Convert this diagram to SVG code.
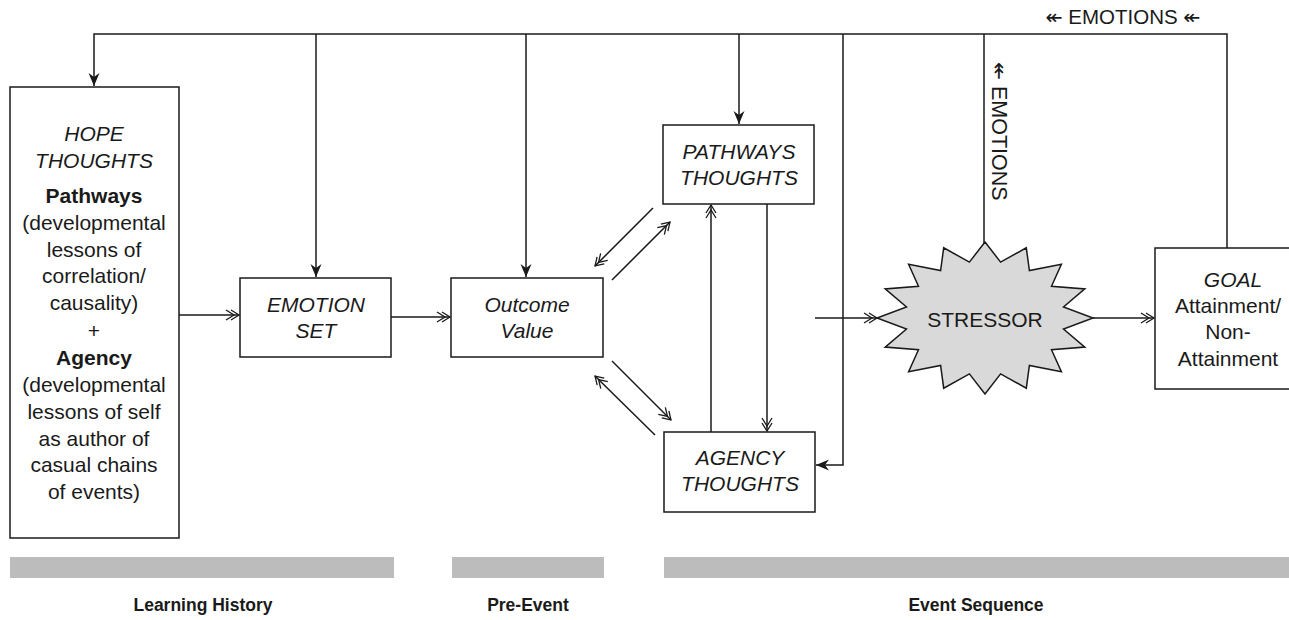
<svg xmlns="http://www.w3.org/2000/svg" width="1289" height="620" viewBox="0 0 1289 620">
  <style>
    .box { fill: #ffffff; stroke: #1a1a1a; stroke-width: 1.5; }
    .wire { fill: none; stroke: #1a1a1a; stroke-width: 1.5; }
    .txt { font-family: "Liberation Sans", Arial, "DejaVu Sans", sans-serif; font-size: 21px; fill: #1a1a1a; text-anchor: middle; }
    .it { font-style: italic; }
    .bd { font-weight: bold; }
    .band { fill: #bcbcbc; }
    .lbl { font-family: "Liberation Sans", Arial, sans-serif; font-size: 17.5px; font-weight: bold; fill: #1a1a1a; text-anchor: middle; }
    .sym { font-family: "DejaVu Sans", "Liberation Sans", sans-serif; }
  </style>
  <defs>
    <!-- solid dart head for the feedback drops -->
    <marker id="dart" markerUnits="userSpaceOnUse" markerWidth="16" markerHeight="14" viewBox="-13 -7 16 14" refX="0" refY="0" orient="auto">
      <path d="M0,0 L-13,-5.5 L-9,0 L-13,5.5 Z" fill="#1a1a1a"/>
    </marker>
    <!-- open double chevron head -->
    <marker id="dbl" markerUnits="userSpaceOnUse" markerWidth="18" markerHeight="14" viewBox="-14 -7 18 14" refX="0" refY="0" orient="auto">
      <path d="M-8,-5 L0,0 L-8,5 M-13,-5 L-5,0 L-13,5" fill="none" stroke="#1a1a1a" stroke-width="1.3"/>
    </marker>
  </defs>

  <!-- phase bands and captions -->
  <g id="phases">
    <rect class="band" x="10" y="557" width="384" height="21"/>
    <rect class="band" x="452" y="557" width="152" height="21"/>
    <rect class="band" x="664" y="557" width="625" height="21"/>
    <text class="lbl" x="203" y="611">Learning History</text>
    <text class="lbl" x="528" y="611">Pre-Event</text>
    <text class="lbl" x="976" y="611">Event Sequence</text>
  </g>

  <!-- connectors -->
  <g id="connectors" class="wire">
    <!-- emotion feedback bus -->
    <path d="M1227,248 V34 H94 V86" marker-end="url(#dart)"/>
    <path d="M316,34 V277" marker-end="url(#dart)"/>
    <path d="M526,34 V277" marker-end="url(#dart)"/>
    <path d="M739,34 V124" marker-end="url(#dart)"/>
    <path d="M843,34 V465 H816" marker-end="url(#dart)"/>
    <path d="M984,34 V243"/>
    <!-- forward flow -->
    <path d="M179,315 H239" marker-end="url(#dbl)"/>
    <path d="M391,317 H450" marker-end="url(#dbl)"/>
    <path d="M815,318 H877" marker-end="url(#dbl)"/>
    <path d="M1093,318 H1154" marker-end="url(#dbl)"/>
    <!-- outcome value <-> thoughts -->
    <path d="M653,208 L595,266" marker-end="url(#dbl)"/>
    <path d="M612,280 L670,222" marker-end="url(#dbl)"/>
    <path d="M612,361 L671,420" marker-end="url(#dbl)"/>
    <path d="M655,435 L595,376" marker-end="url(#dbl)"/>
    <!-- pathways <-> agency -->
    <path d="M767,204 V431" marker-end="url(#dbl)"/>
    <path d="M711,432 V205" marker-end="url(#dbl)"/>
  </g>

  <!-- feedback labels -->
  <g id="emotion-labels">
    <text class="txt" x="1123" y="24" style="font-size:20.5px"><tspan class="sym">↞</tspan> EMOTIONS <tspan class="sym">↞</tspan></text>
    <text class="txt" transform="translate(992,62) rotate(90)" style="font-size:21.5px;text-anchor:start"><tspan class="sym">↞</tspan> EMOTIONS</text>
  </g>

  <g id="hope-thoughts">
    <rect class="box" x="10" y="87" width="169" height="451"/>
    <text class="txt it" x="94" y="141">HOPE</text>
    <text class="txt it" x="94" y="168">THOUGHTS</text>
    <text class="txt bd" x="94" y="203">Pathways</text>
    <text class="txt" x="94" y="230">(developmental</text>
    <text class="txt" x="94" y="257">lessons of</text>
    <text class="txt" x="94" y="283">correlation/</text>
    <text class="txt" x="94" y="310">causality)</text>
    <text class="txt" x="94" y="338">+</text>
    <text class="txt bd" x="94" y="365">Agency</text>
    <text class="txt" x="94" y="392">(developmental</text>
    <text class="txt" x="94" y="419">lessons of self</text>
    <text class="txt" x="94" y="446">as author of</text>
    <text class="txt" x="94" y="472">casual chains</text>
    <text class="txt" x="94" y="499">of events)</text>
  </g>

  <g id="emotion-set">
    <rect class="box" x="240" y="278" width="151" height="79"/>
    <text class="txt it" x="316" y="312">EMOTION</text>
    <text class="txt it" x="316" y="338">SET</text>
  </g>

  <g id="outcome-value">
    <rect class="box" x="451" y="278" width="152" height="79"/>
    <text class="txt it" x="527" y="312">Outcome</text>
    <text class="txt it" x="527" y="338">Value</text>
  </g>

  <g id="pathways-thoughts">
    <rect class="box" x="663" y="125" width="151" height="79"/>
    <text class="txt it" x="739" y="159">PATHWAYS</text>
    <text class="txt it" x="739" y="185">THOUGHTS</text>
  </g>

  <g id="agency-thoughts">
    <rect class="box" x="664" y="432" width="151" height="80"/>
    <text class="txt it" x="740" y="465">AGENCY</text>
    <text class="txt it" x="740" y="491">THOUGHTS</text>
  </g>

  <g id="stressor">
    <!-- sixteen-point burst on an ellipse, centre (985,318) -->
    <polygon fill="#d9d9d9" stroke="#1a1a1a" stroke-width="1.5" stroke-linejoin="miter"
      points="985,242 1000.6,262.1 1026.3,247.8 1029.4,270.6 1061.4,264.3 1051.5,286.3 1084.8,288.9 1063.5,306.9 1093,318 1063.5,329.1 1084.8,347.1 1051.5,349.7 1061.4,371.7 1029.4,365.4 1026.3,388.2 1000.6,373.9 985,394 969.4,373.9 943.7,388.2 940.6,365.4 908.6,371.7 918.5,349.7 885.2,347.1 906.5,329.1 877,318 906.5,306.9 885.2,288.9 918.5,286.3 908.6,264.3 940.6,270.6 943.7,247.8 969.4,262.1"/>
    <text class="txt" x="985" y="327">STRESSOR</text>
  </g>

  <g id="goal">
    <rect class="box" x="1155" y="248" width="150" height="141"/>
    <text class="txt it" x="1233" y="287">GOAL</text>
    <text class="txt" x="1228" y="313">Attainment/</text>
    <text class="txt" x="1228" y="339">Non-</text>
    <text class="txt" x="1228" y="366">Attainment</text>
  </g>
</svg>
